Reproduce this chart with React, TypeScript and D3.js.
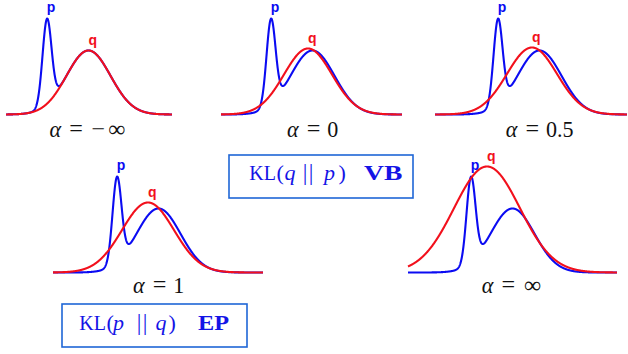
import React from 'react';
import * as d3 from 'd3';

// ---- data ----
const alphaLabels = ['−∞', '0', '0.5', '1', '∞'];
const pMeans = [0, 4.15];
const pSds = [0.45, 2.2];
const pHeights = [0.85, 0.64];
const qMeans = [4.15, 3.7, 3.4, 3.1, 1.6];
const qSds = [2.2, 2.4, 2.5, 2.6, 3.3];
const qHeights = [0.64, 0.66, 0.67, 0.7, 1.06];
const xExtents: [number, number][] = [
  [-4.1, 12.5],
  [-5.0, 13.1],
  [-6.3, 12.9],
  [-6.4, 14.6],
  [-6.3, 14.6],
];
const labelAt = 4.1;

// ---- layout ----
const W = 628;
const H = 354;
const PX_PER_UNIT = 10;
const Y_PX = 100;
const panelLeft = [6, 221, 435, 53, 408];
const panelBase = [114.5, 114.5, 114.5, 272.5, 272.5];
const labelBase = [136.5, 136.5, 136.5, 293, 293];

const BLUE = '#0b0bf2';
const RED = '#f2101c';
const BOX = '#1f66d6';
const TXT = '#1414e6';
const SERIF = '"Liberation Serif", "Times New Roman", serif';
const SANS = '"Liberation Sans", Arial, sans-serif';

const gauss = (x: number, m: number, s: number, h: number) =>
  h * Math.exp(-((x - m) * (x - m)) / (2 * s * s));
const pFn = (x: number) =>
  pMeans.reduce((acc, m, k) => acc + gauss(x, m, pSds[k], pHeights[k]), 0);

const EM: Record<string, number> = {
  'α': 0.64,
  '=': 0.778,
  '−': 0.778,
  '∞': 1.0,
  '0': 0.5,
  '1': 0.5,
  '5': 0.5,
  '.': 0.278,
  ' ': 0.278,
};

function MathLabel({ cx, y, value, size }: { cx: number; y: number; value: string; size: number }) {
  const toks = ['α', ' ', '=', ' ', ...value.split('')];
  const total = toks.reduce((a, t) => a + EM[t] * size, 0);
  let x = cx - total / 2;
  const out: React.ReactNode[] = [];
  toks.forEach((t, i) => {
    const w = EM[t] * size;
    if (t !== ' ') {
      const big = t === '∞' || t === '=' || t === '−';
      out.push(
        <text
          key={i}
          x={x + w / 2}
          y={y}
          textAnchor="middle"
          style={{
            fontFamily: SERIF,
            fontStyle: t === 'α' ? 'italic' : 'normal',
            fontSize: big ? size * 1.15 : size * 1.05,
          }}
          fill="#111"
        >
          {t}
        </text>
      );
    }
    x += w;
  });
  return <g>{out}</g>;
}

function Panel({ i }: { i: number }) {
  const ext = xExtents[i];
  const x0 = panelLeft[i];
  const xScale = d3
    .scaleLinear()
    .domain(ext)
    .range([x0, x0 + (ext[1] - ext[0]) * PX_PER_UNIT]);
  const yScale = d3
    .scaleLinear()
    .domain([0, 1])
    .range([panelBase[i], panelBase[i] - Y_PX]);
  const xs = d3.range(ext[0], ext[1], 0.02).concat([ext[1]]);
  const qFn = (x: number) => gauss(x, qMeans[i], qSds[i], qHeights[i]);
  const lineP = d3
    .line<number>()
    .x((x) => xScale(x))
    .y((x) => yScale(pFn(x)));
  const lineQ = d3
    .line<number>()
    .x((x) => xScale(x))
    .y((x) => yScale(qFn(x)));
  const pPeak = pFn(pMeans[0]);
  return (
    <g>
      <path d={lineP(xs) || ''} fill="none" stroke={BLUE} strokeWidth={2.1} />
      <path d={lineQ(xs) || ''} fill="none" stroke={RED} strokeWidth={2.1} />
      <text
        x={xScale(pMeans[0] + 0.4)}
        y={yScale(pPeak + 0.065)}
        textAnchor="middle"
        style={{ fontFamily: SANS, fontWeight: 'bold', fontSize: 14 }}
        fill={BLUE}
      >
        p
      </text>
      <text
        x={xScale(qMeans[i] + 0.42)}
        y={yScale(qHeights[i] + 0.06)}
        textAnchor="middle"
        style={{ fontFamily: SANS, fontWeight: 'bold', fontSize: 14 }}
        fill={RED}
      >
        q
      </text>
      <MathLabel cx={xScale(labelAt)} y={labelBase[i]} value={alphaLabels[i]} size={21} />
    </g>
  );
}

type Tok = { t: string; x: number; style: 'up' | 'it' | 'bf'; w?: number; size?: number };

function KLBox({
  x,
  y,
  w,
  h,
  base,
  toks,
}: {
  x: number;
  y: number;
  w: number;
  h: number;
  base: number;
  toks: Tok[];
}) {
  return (
    <g>
      <rect x={x} y={y} width={w} height={h} fill="white" stroke={BOX} strokeWidth={1.6} />
      <text y={base} fill={TXT} style={{ fontFamily: SERIF, fontSize: 21 }}>
        {toks.map((tk, k) => (
          <tspan
            key={k}
            x={tk.x}
            y={base}
            style={{
              fontStyle: tk.style === 'it' ? 'italic' : 'normal',
              fontWeight: tk.style === 'bf' ? 'bold' : 'normal',
              fontSize: tk.size || 21,
            }}
            textLength={tk.w}
            lengthAdjust={tk.w ? 'spacingAndGlyphs' : undefined}
          >
            {tk.t}
          </tspan>
        ))}
      </text>
    </g>
  );
}

export default function App() {
  const vbToks: Tok[] = [
    { t: 'KL', x: 249.3, style: 'up', size: 20 },
    { t: '(', x: 276.6, style: 'up', size: 22 },
    { t: 'q', x: 284.6, style: 'it', size: 22 },
    { t: '|', x: 302.8, style: 'up', size: 23 },
    { t: '|', x: 308.8, style: 'up', size: 23 },
    { t: 'p', x: 324, style: 'it', size: 22 },
    { t: ')', x: 338.5, style: 'up', size: 22 },
    { t: 'VB', x: 364, style: 'bf', w: 38.3 },
  ];
  const epToks: Tok[] = [
    { t: 'KL', x: 79.3, style: 'up', size: 20 },
    { t: '(', x: 106.6, style: 'up', size: 22 },
    { t: 'p', x: 113, style: 'it', size: 22 },
    { t: '|', x: 136.8, style: 'up', size: 23 },
    { t: '|', x: 142.8, style: 'up', size: 23 },
    { t: 'q', x: 155.5, style: 'it', size: 22 },
    { t: ')', x: 168.5, style: 'up', size: 22 },
    { t: 'EP', x: 198, style: 'bf', w: 31 },
  ];
  return (
    <svg
      width={W}
      height={H}
      viewBox={`0 0 ${W} ${H}`}
      style={{ position: 'absolute', left: 0, top: 0, background: 'white' }}
    >
      <rect x={0} y={0} width={W} height={H} fill="white" />
      {xExtents.map((_, i) => (
        <Panel key={i} i={i} />
      ))}
      <KLBox x={229} y={155} w={184} h={43} base={179.5} toks={vbToks} />
      <KLBox x={62} y={304} w={185} h={43} base={329.5} toks={epToks} />
    </svg>
  );
}
